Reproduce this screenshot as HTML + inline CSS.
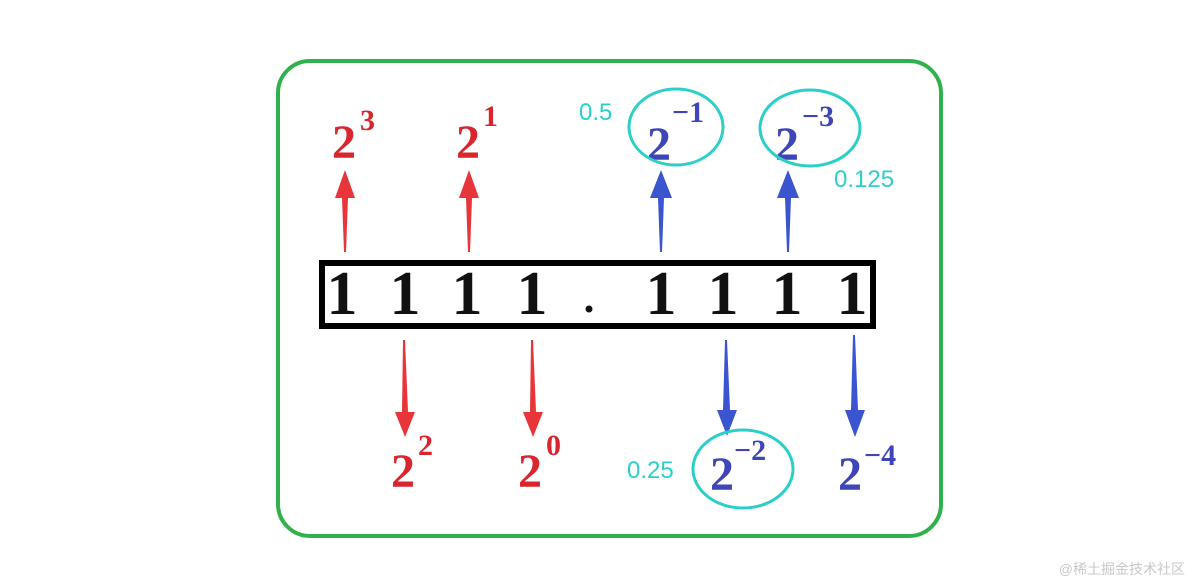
<!DOCTYPE html>
<html><head><meta charset="utf-8"><style>
html,body{margin:0;padding:0;background:#fff;width:1200px;height:586px;overflow:hidden}
svg{display:block}
.b{font-family:"Liberation Serif",serif;font-size:48px;font-weight:bold}
.s{font-family:"Liberation Serif",serif;font-size:30px;font-weight:bold}
.c{font-family:"Liberation Sans",sans-serif;font-size:24px;fill:#2ccfc8}
</style></head><body>
<svg width="1200" height="586" viewBox="0 0 1200 586">
<rect x="278" y="61" width="663" height="475" rx="32" fill="none" stroke="#2fb24b" stroke-width="4"/>
<rect x="322" y="263" width="551" height="63" fill="#fff" stroke="#000" stroke-width="6"/>
<g font-family="Liberation Serif,serif" font-size="62" font-weight="bold" fill="#111" text-anchor="middle">
<text x="342" y="314">1</text><text x="405" y="314">1</text><text x="467" y="314">1</text><text x="532" y="314">1</text>
<text x="661" y="314">1</text><text x="723" y="314">1</text><text x="787" y="314">1</text><text x="852" y="314">1</text>
</g>
<circle cx="589" cy="309" r="3.5" fill="#111"/>
<g fill="#e8353a">
<polygon points="344,252 346,252 348,198 355,198 345,170 335,198 342,198"/>
<polygon points="468,252 470,252 472,198 479,198 469,170 459,198 466,198"/>
<polygon points="403,340 405,340 408,412 415,412 405,437 395,412 402,412"/>
<polygon points="531,340 533,340 536,412 543,412 533,437 523,412 530,412"/>
</g>
<g fill="#3a55cf">
<polygon points="660,252 662,252 664,198 672,198 661,170 650,198 658,198"/>
<polygon points="787,252 789,252 791,198 799,198 788,170 777,198 785,198"/>
<polygon points="725,340 727,340 730,410 737,410 727,436 717,410 723,410"/>
<polygon points="853,335 855,335 858,410 865,410 855,437 845,410 851,410"/>
</g>
<g fill="#d9262e">
<text class="b" x="332" y="158">2</text><text class="s" x="360" y="130">3</text>
<text class="b" x="456" y="158">2</text><text class="s" x="483" y="126">1</text>
<text class="b" x="391" y="487">2</text><text class="s" x="418" y="455">2</text>
<text class="b" x="518" y="487">2</text><text class="s" x="546" y="455">0</text>
</g>
<g fill="#3d45b8">
<text class="b" x="647" y="160">2</text><text class="s" x="672" y="122">−1</text>
<text class="b" x="775" y="160">2</text><text class="s" x="802" y="126">−3</text>
<text class="b" x="710" y="490">2</text><text class="s" x="734" y="460">−2</text>
<text class="b" x="838" y="490">2</text><text class="s" x="864" y="465">−4</text>
</g>
<g fill="none" stroke="#2ccfc8" stroke-width="3">
<ellipse cx="676" cy="127" rx="47" ry="38"/>
<ellipse cx="810" cy="128" rx="50" ry="38"/>
<ellipse cx="743" cy="469" rx="50" ry="39"/>
</g>
<text class="c" x="579" y="120">0.5</text>
<text class="c" x="834" y="187">0.125</text>
<text class="c" x="627" y="478">0.25</text>
<text x="1185" y="574" text-anchor="end" font-family="Liberation Sans,Noto Sans CJK SC,sans-serif" font-size="14" fill="#c8c8c8">@稀土掘金技术社区</text>
</svg>
</body></html>
